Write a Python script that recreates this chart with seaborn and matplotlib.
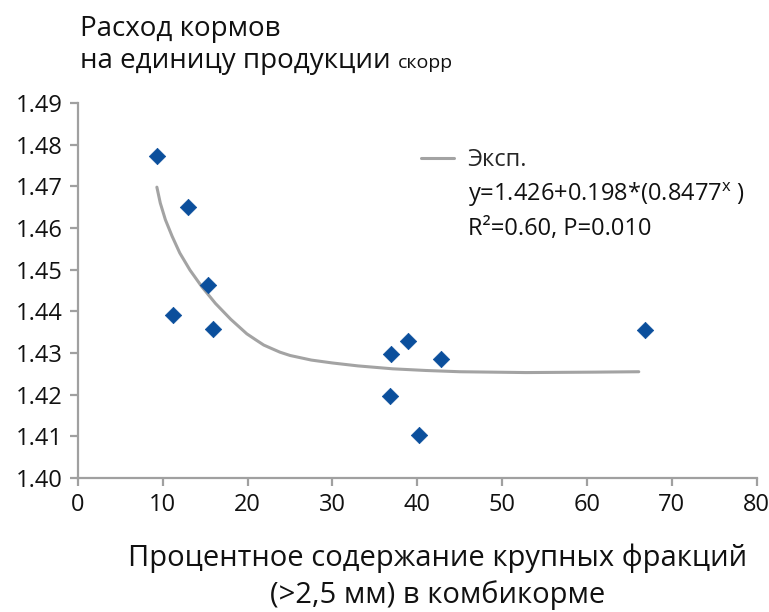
import numpy as np
import pandas as pd
import matplotlib
matplotlib.use("Agg")
import matplotlib.pyplot as plt
import seaborn as sns

# measured points (fraction > 2.5 mm, %; feed conversion)
coarse_pct = [9.3, 13.0, 15.3, 11.2, 15.9, 36.9, 38.9, 42.8, 36.8, 40.2, 66.8]
feed_conv = [1.4773, 1.4651, 1.4462, 1.4391, 1.4358, 1.4298, 1.4329, 1.4286, 1.4197, 1.4103, 1.4355]

# exponential fit curve
fit_x = [9.3, 9.7, 10.3, 11.1, 12.0, 13.2, 14.6, 16.2, 18.0, 19.9, 21.0, 21.9, 22.9,
         23.8, 25.0, 27.5, 30.0, 33.0, 37.1, 41.0, 45.0, 52.8, 60.7, 66.1]
fit_y = [1.4698, 1.4660, 1.4620, 1.4580, 1.4540, 1.4499, 1.4459, 1.4419, 1.4381,
         1.4346, 1.4331, 1.4319, 1.4310, 1.4302, 1.4294, 1.4283, 1.4276, 1.4269,
         1.4262, 1.4258, 1.4255, 1.4253, 1.4254, 1.4255]

y_ticks = [1.40, 1.41, 1.42, 1.43, 1.44, 1.45, 1.46, 1.47, 1.48, 1.49]
x_ticks = [0, 10, 20, 30, 40, 50, 60, 70, 80]

sns.set_theme(style="white")
plt.rcParams['font.family'] = ['Open Sans', 'DejaVu Sans']

fig = plt.figure(figsize=(7.69, 6.12), dpi=100)
ax = fig.add_axes([0.1014, 0.219, 0.8826, 0.6127])

pts = pd.DataFrame({'x': coarse_pct, 'y': feed_conv})
fit = pd.DataFrame({'x': fit_x, 'y': fit_y})

sns.lineplot(data=fit, x='x', y='y', ax=ax, color='#a3a3a3', linewidth=2.2,
             label='Эксп.', sort=False)
sns.scatterplot(data=pts, x='x', y='y', ax=ax, marker='D', s=70,
                color='#0b4f9c', edgecolor='#0b4f9c', linewidth=0.5, zorder=3)

ax.set_xlim(0, 80)
ax.set_ylim(1.40, 1.49)
ax.set_xticks(x_ticks)
ax.set_yticks(y_ticks)
ax.set_yticklabels([f'{v:.2f}' for v in y_ticks])
ax.set_xlabel('')
ax.set_ylabel('')

for side in ['top', 'right']:
    ax.spines[side].set_visible(False)
for side in ['left', 'bottom']:
    ax.spines[side].set_color('#a0a0a0')
    ax.spines[side].set_linewidth(1.6)
ax.tick_params(axis='both', which='major', direction='out', length=6, width=1.6,
               color='#a0a0a0', labelsize=17, labelcolor='#111111', pad=5,
               left=True, bottom=True)
ax.grid(False)

leg = ax.legend(loc='center left', bbox_to_anchor=(0.505, 0.848), frameon=False,
                fontsize=17, handlelength=1.4, handletextpad=0.55,
                borderaxespad=0, borderpad=0)
ax.text(0.574, 0.755, 'y=1.426+0.198*(0.8477$^\\mathregular{x}$ )', transform=ax.transAxes,
        fontsize=17, color='#111111', va='center')
ax.text(0.574, 0.665, 'R²=0.60, P=0.010', transform=ax.transAxes,
        fontsize=17, color='#111111', va='center')

fig.text(0.104, 0.941, 'Расход кормов', fontsize=20, color='#111111', va='baseline')
t2 = fig.text(0.104, 0.889, 'на единицу продукции', fontsize=20, color='#111111',
              va='baseline')
fig.canvas.draw()
bb = t2.get_window_extent().transformed(fig.transFigure.inverted())
fig.text(bb.x1 + 0.01, 0.889, 'скорр', fontsize=14, color='#111111', va='baseline')

fig.text(0.569, 0.088, 'Процентное содержание крупных фракций', fontsize=21,
         color='#111111', ha='center', va='center')
fig.text(0.569, 0.028, '(>2,5 мм) в комбикорме', fontsize=21,
         color='#111111', ha='center', va='center')

fig.savefig('out.png', dpi=100)
